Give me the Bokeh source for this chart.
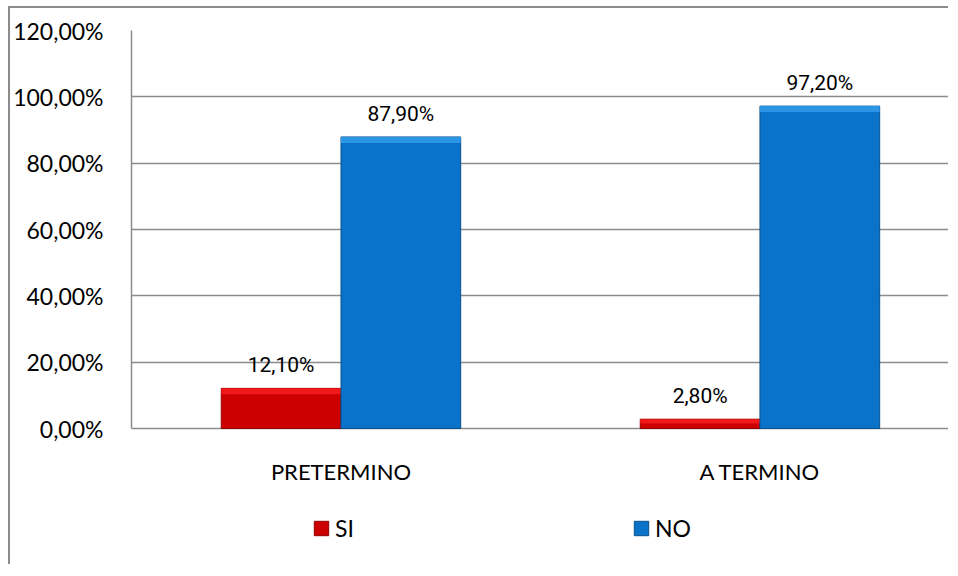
import numpy as np
from bokeh.plotting import figure
from bokeh.models import (ColumnDataSource, Legend, LegendItem, LabelSet,
                          FixedTicker, Range1d)
from bokeh.core.properties import value
from bokeh.embed import file_html
from bokeh.resources import INLINE

# ---- data ----
categories = ["PRETERMINO", "A TERMINO"]
series_names = ["SI", "NO"]
si_values = [12.1, 2.8]
no_values = [87.9, 97.2]
y_ticks = [0, 20, 40, 60, 80, 100, 120]
y_tick_labels = ["0,00%", "20,00%", "40,00%", "60,00%", "80,00%", "100,00%", "120,00%"]

# ---- styles / layout ----
GRID = "#8c8c8c"
RED, RED_LINE, RED_TOP = "#cc0000", "#8f0000", "#f01818"
BLUE, BLUE_LINE, BLUE_TOP = "#0873c9", "#0a4f8a", "#2b95e6"
AXIS_FONT = "Lato"
LABEL_FONT = "Roboto"

W, H = 940, 558
BORDER_L, BORDER_T = 119, 22
FRAME_W = W - BORDER_L
FRAME_H = H - BORDER_T
PX_PER_PCT = 398 / 120      # plot height of 0..120 in pixels
CAT_PX = 420                # pixel width of one category

x = np.arange(len(categories))
bar_w = 120 / CAT_PX
band = 1.8


def fmt(v):
    return f"{v:.2f}".replace(".", ",") + "%"


si_src = ColumnDataSource(dict(
    left=x - bar_w, right=x, top=si_values, bottom=[0] * len(x),
    band_bottom=[v - min(band, v * 0.45) for v in si_values],
    xc=x - bar_w / 2, lab=[fmt(v) for v in si_values]))
no_src = ColumnDataSource(dict(
    left=x, right=x + bar_w, top=no_values, bottom=[0] * len(x),
    band_bottom=[v - min(band, v * 0.45) for v in no_values],
    xc=x + bar_w / 2, lab=[fmt(v) for v in no_values]))
cat_src = ColumnDataSource(dict(x=x, y=[0] * len(x), text=categories))

p = figure(width=W, height=H,
           x_range=Range1d(-0.5, -0.5 + FRAME_W / CAT_PX),
           y_range=Range1d(120 - FRAME_H / PX_PER_PCT, 120),
           x_axis_location=None,
           output_backend="svg", toolbar_location=None,
           min_border_left=BORDER_L, min_border_right=0,
           min_border_top=BORDER_T, min_border_bottom=0,
           styles={"margin-left": "8px", "margin-top": "6px",
                   "border-left": f"2px solid {GRID}",
                   "border-top": f"2px solid {GRID}"})
p.outline_line_color = None
p.background_fill_color = "white"
p.border_fill_color = "white"

p.xgrid.visible = False
p.ygrid.grid_line_color = GRID
p.ygrid.grid_line_width = 1.5
p.ygrid.ticker = FixedTicker(ticks=y_ticks)

ya = p.yaxis[0]
ya.ticker = FixedTicker(ticks=y_ticks)
ya.major_label_overrides = {t: l for t, l in zip(y_ticks, y_tick_labels)}
ya.bounds = (y_ticks[0], y_ticks[-1])
ya.axis_line_color = GRID
ya.axis_line_width = 1.5
ya.major_tick_line_color = None
ya.minor_tick_line_color = None
ya.major_tick_out = 0
ya.major_tick_in = 0
ya.major_label_text_font = AXIS_FONT
ya.major_label_text_font_size = "23px"
ya.major_label_text_color = "black"
ya.major_label_standoff = 28

r_si = p.quad(left="left", right="right", top="top", bottom="bottom", source=si_src,
              fill_color=RED, line_color=RED_LINE, line_width=1)
p.quad(left="left", right="right", top="top", bottom="band_bottom", source=si_src,
       fill_color=RED_TOP, line_color=None)
r_no = p.quad(left="left", right="right", top="top", bottom="bottom", source=no_src,
              fill_color=BLUE, line_color=BLUE_LINE, line_width=1)
p.quad(left="left", right="right", top="top", bottom="band_bottom", source=no_src,
       fill_color=BLUE_TOP, line_color=None)

# category labels under the 0 line
p.text(x="x", y="y", text="text", source=cat_src, text_align="center",
       text_baseline="alphabetic", y_offset=43, text_font=value(AXIS_FONT),
       text_font_size="22px", text_color="black")

for src in (si_src, no_src):
    p.add_layout(LabelSet(x="xc", y="top", text="lab", source=src,
                          text_align="center", text_baseline="alphabetic",
                          y_offset=16, text_font=value(LABEL_FONT),
                          text_font_size=value("21px"), text_color="black"))

legend = Legend(items=[LegendItem(label=series_names[0], renderers=[r_si]),
                       LegendItem(label=series_names[1], renderers=[r_no])],
                location=(181, 24), orientation="horizontal",
                glyph_width=18, glyph_height=18, label_standoff=5, spacing=277,
                padding=0, margin=0, border_line_color=None,
                background_fill_alpha=0,
                label_text_font=AXIS_FONT, label_text_font_size="23px",
                label_text_color="black")
p.add_layout(legend, "center")

open("out.html", "w").write(file_html(p, INLINE))
